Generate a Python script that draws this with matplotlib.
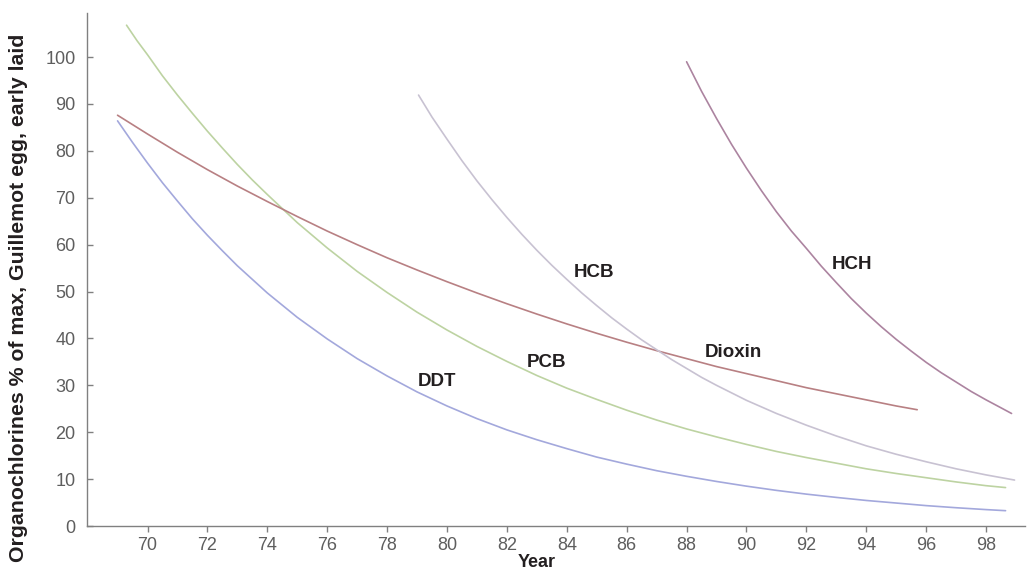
import matplotlib
matplotlib.use("Agg")
import matplotlib.pyplot as plt

plt.rcParams['font.family'] = ['Liberation Sans', 'DejaVu Sans']

# ---- data ----
ddt_years = [69.0, 69.5, 70, 70.5, 71, 71.5, 72, 72.5, 73, 74, 75, 76, 77, 78, 79, 80, 81,
             82, 83, 84, 85, 86, 87, 88, 89, 90, 91, 92, 93, 94, 95, 96, 97, 98, 98.65]
ddt_vals = [86.4, 81.8, 77.4, 73.2, 69.3, 65.5, 62.0, 58.7, 55.5, 49.7, 44.5, 39.9, 35.7,
            32.0, 28.6, 25.6, 22.9, 20.5, 18.4, 16.5, 14.7, 13.2, 11.8, 10.6, 9.5, 8.5, 7.6,
            6.8, 6.1, 5.45, 4.9, 4.35, 3.9, 3.5, 3.27]

pcb_years = [69.3, 69.65, 70, 70.5, 71, 71.5, 72, 72.5, 73, 73.5, 74, 75, 76, 77, 78, 79,
             80, 81, 82, 83, 84, 85, 86, 87, 88, 89, 90, 91, 92, 93, 94, 95, 96, 97, 98, 98.65]
pcb_vals = [106.8, 103.5, 100.5, 96.0, 91.9, 88.0, 84.2, 80.6, 77.1, 73.8, 70.7, 64.7, 59.3,
            54.3, 49.8, 45.6, 41.8, 38.3, 35.1, 32.1, 29.4, 27.0, 24.7, 22.6, 20.7, 19.0,
            17.4, 15.9, 14.6, 13.4, 12.2, 11.2, 10.3, 9.4, 8.6, 8.2]

dioxin_years = [69.0, 70, 71, 72, 73, 74, 75, 76, 77, 78, 79, 80, 81, 82, 83, 84, 85, 86,
                87, 88, 89, 90, 91, 92, 93, 94, 95, 95.7]
dioxin_vals = [87.6, 83.6, 79.7, 76.0, 72.5, 69.2, 66.0, 62.9, 60.0, 57.2, 54.6, 52.1, 49.7,
               47.4, 45.2, 43.1, 41.1, 39.2, 37.4, 35.7, 34.0, 32.5, 31.0, 29.5, 28.2, 26.9,
               25.6, 24.8]

hcb_years = [79.05, 79.5, 80, 80.5, 81, 81.5, 82, 82.5, 83, 83.5, 84, 84.5, 85, 85.5, 86,
             86.5, 87, 87.5, 88, 88.5, 89, 90, 91, 92, 93, 94, 95, 96, 97, 98, 98.95]
hcb_vals = [91.9, 87.2, 82.5, 77.9, 73.6, 69.6, 65.8, 62.2, 58.8, 55.6, 52.6, 49.7, 47.0,
            44.4, 42.0, 39.7, 37.6, 35.5, 33.6, 31.7, 30.0, 26.8, 24.0, 21.5, 19.2, 17.1,
            15.3, 13.7, 12.2, 10.9, 9.8]

hch_years = [88.0, 88.5, 89, 89.5, 90, 90.5, 91, 91.5, 92, 92.5, 93, 93.5, 94, 94.5, 95,
             95.5, 96, 96.5, 97, 97.5, 98, 98.5, 98.85]
hch_vals = [99.0, 92.7, 86.9, 81.4, 76.3, 71.5, 67.0, 62.9, 59.2, 55.4, 51.9, 48.5, 45.4,
            42.5, 39.8, 37.3, 34.9, 32.7, 30.7, 28.7, 26.9, 25.2, 24.0]

series_names = ['DDT', 'PCB', 'Dioxin', 'HCB', 'HCH']
label_x = [79.67, 83.33, 89.56, 84.92, 93.51]
label_y = [30.9, 34.9, 37.0, 54.1, 55.8]

x_ticks = list(range(70, 99, 2))
y_ticks = list(range(0, 101, 10))

colors = {'DDT': '#a3a8dc', 'PCB': '#bdd3a2', 'Dioxin': '#b88083',
          'HCB': '#c8c2d2', 'HCH': '#ac84a0'}

fig = plt.figure(figsize=(10.31, 5.73), dpi=100)
ax = fig.add_axes([0.0841, 0.082, 0.9101, 0.8953])

for name, xs, ys in [('DDT', ddt_years, ddt_vals), ('PCB', pcb_years, pcb_vals),
                     ('Dioxin', dioxin_years, dioxin_vals), ('HCB', hcb_years, hcb_vals),
                     ('HCH', hch_years, hch_vals)]:
    ax.plot(xs, ys, color=colors[name], lw=1.2, solid_capstyle='round',
            solid_joinstyle='round')

for name, lx, ly in zip(series_names, label_x, label_y):
    ax.text(lx, ly, name, fontsize=13.5, fontweight='bold', color='#231f20',
            ha='center', va='center')

ax.set_xlim(67.97, 99.3)
ax.set_ylim(0, 109.4)
ax.set_xticks(x_ticks)
ax.set_xticklabels([str(t) for t in x_ticks])
ax.set_yticks(y_ticks)
ax.set_yticklabels([str(t) for t in y_ticks])

for s in ['top', 'right']:
    ax.spines[s].set_visible(False)
for s in ['left', 'bottom']:
    ax.spines[s].set_color('#808080')
    ax.spines[s].set_linewidth(1.0)

ax.tick_params(axis='y', direction='in', length=4, width=1, color='#808080',
               labelsize=13, labelcolor='#5e5e5e', pad=8)
ax.tick_params(axis='x', direction='out', length=4, width=1, color='#808080',
               labelsize=13, labelcolor='#5e5e5e', pad=4)

fig.text(0.0175, 0.481, 'Organochlorines % of max, Guillemot egg, early laid',
         rotation=90, fontsize=15.3, fontweight='bold', color='#231f20',
         ha='center', va='center')
fig.text(0.521, 0.018, 'Year', fontsize=13, fontweight='bold', color='#231f20',
         ha='center', va='center')

fig.savefig('out.png', dpi=100)
